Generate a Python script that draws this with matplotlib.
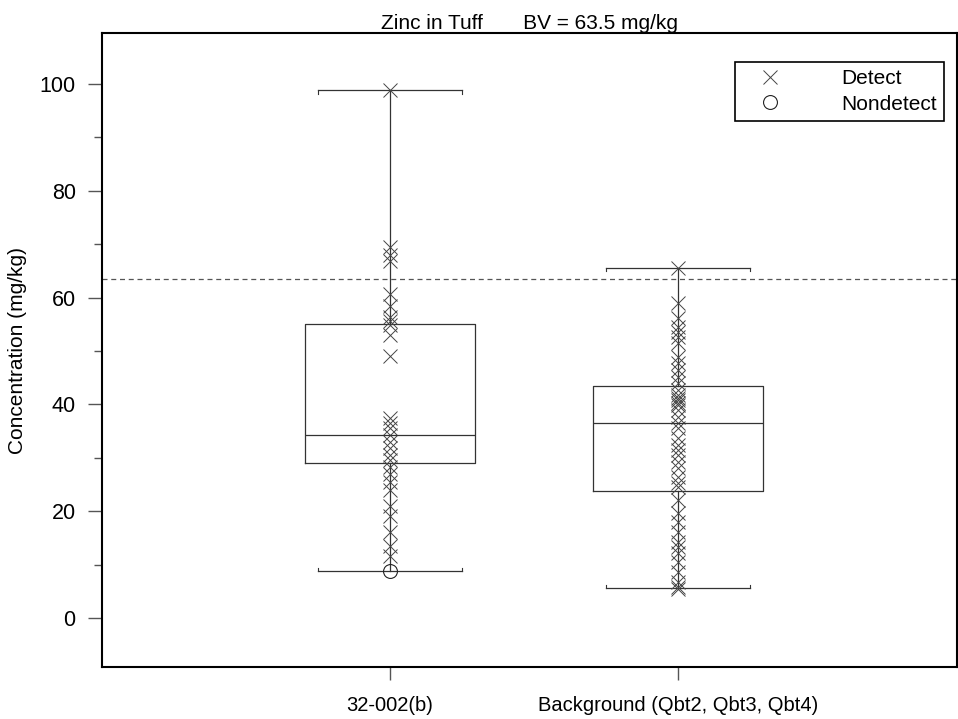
import matplotlib
matplotlib.use("Agg")
import matplotlib.pyplot as plt
from matplotlib.lines import Line2D

# ------------------------------------------------------------
# Zinc in tuff: site samples vs. background
# ------------------------------------------------------------
groups = ["32-002(b)", "Background (Qbt2, Qbt3, Qbt4)"]
bv = 63.5

site_detect = [98.8, 69.4, 68.0, 66.9, 60.6, 58.5, 56.4, 55.6, 54.8, 53.0,
               49.0, 37.5, 36.5, 35.5, 34.2, 33.0, 31.8, 30.5, 29.6, 28.2,
               27.0, 25.5, 24.0, 21.0, 19.0, 16.0, 13.5, 11.5]
site_nondetect = [8.8]

bg_detect = [65.5, 59.0, 56.2, 54.5, 53.6, 52.6, 51.5, 48.9, 47.8, 46.4,
             45.1, 44.0, 42.7, 41.8, 41.2, 40.8, 40.2, 39.9, 39.0, 37.6,
             36.5, 35.6, 33.7, 32.4, 31.5, 30.5, 29.2, 28.1, 26.4, 25.3,
             24.5, 22.1, 19.7, 18.0, 16.1, 14.2, 13.3, 12.2, 10.5, 8.6,
             6.7, 5.8, 5.4]
bg_nondetect = []

# box statistics: whisker low, q1, median, q3, whisker high
site_stats = [8.8, 29.0, 34.3, 55.0, 98.8]
bg_stats = [5.6, 23.8, 36.5, 43.4, 65.5]

# ------------------------------------------------------------
plt.rcParams["font.family"] = ["Liberation Sans", "DejaVu Sans"]
fig = plt.figure(figsize=(9.58, 7.19), dpi=100)
ax = fig.add_axes([0.1065, 0.0723, 0.8925, 0.8818])

box_col = "#333333"
positions = [1, 2]
stats = []
for name, s in zip(groups, [site_stats, bg_stats]):
    stats.append(dict(label=name, whislo=s[0], q1=s[1], med=s[2],
                      q3=s[3], whishi=s[4], fliers=[]))

ax.bxp(stats, positions=positions, widths=0.59, showfliers=False,
       boxprops=dict(color=box_col, lw=0.9),
       medianprops=dict(color=box_col, lw=0.9),
       whiskerprops=dict(color=box_col, lw=0.9),
       capprops=dict(color=box_col, lw=0.9),
       capwidths=0.5)

# little serifs at the cap ends
for p, s in zip(positions, [site_stats, bg_stats]):
    for xe in (p - 0.25, p + 0.25):
        ax.plot([xe, xe], [s[0], s[0] + 0.6], color=box_col, lw=0.8)
        ax.plot([xe, xe], [s[4], s[4] - 0.6], color=box_col, lw=0.8)

for p, det, nd in zip(positions, [site_detect, bg_detect],
                      [site_nondetect, bg_nondetect]):
    ax.plot([p] * len(det), det, ls="none", marker="x", ms=10,
            mew=0.7, color="#444444")
    if nd:
        ax.plot([p] * len(nd), nd, ls="none", marker="o", ms=10,
                mew=0.8, mfc="none", mec="#222222")

ax.axhline(bv, color="#555555", lw=0.9, ls=(0, (4, 3)))

ax.set_xlim(0, 2.97)
ax.set_ylim(-9.2, 109.55)
ax.set_xticks(positions)
ax.set_xticklabels(groups, fontsize=14.5)
ax.set_yticks(range(0, 101, 20))
ax.set_yticks(range(10, 100, 20), minor=True)
ax.tick_params(axis="y", which="major", length=10, width=1, labelsize=15.5,
               color="#555555", pad=9)
ax.tick_params(axis="y", which="minor", length=6, width=1, color="#555555")
ax.tick_params(axis="x", length=9, width=1, color="#555555", pad=12)
for sp in ax.spines.values():
    sp.set_linewidth(1.5)

ax.set_ylabel("Concentration (mg/kg)", fontsize=15, labelpad=9)
ax.set_title("Zinc in Tuff       BV = 63.5 mg/kg", fontsize=15, pad=3)

handles = [
    Line2D([], [], ls="none", marker="x", ms=10, mew=0.7, color="#444444"),
    Line2D([], [], ls="none", marker="o", ms=10, mew=0.8, mfc="none",
           mec="#222222"),
]
leg = ax.legend(handles, ["Detect", "Nondetect"], loc="upper right",
                bbox_to_anchor=(0.985, 0.954), borderaxespad=0,
                fontsize=15, fancybox=False, edgecolor="black",
                framealpha=1, handletextpad=2.08, borderpad=0.35,
                labelspacing=0.3, handlelength=2.66)
leg.get_frame().set_linewidth(1.2)

fig.savefig("out.png", dpi=100)
